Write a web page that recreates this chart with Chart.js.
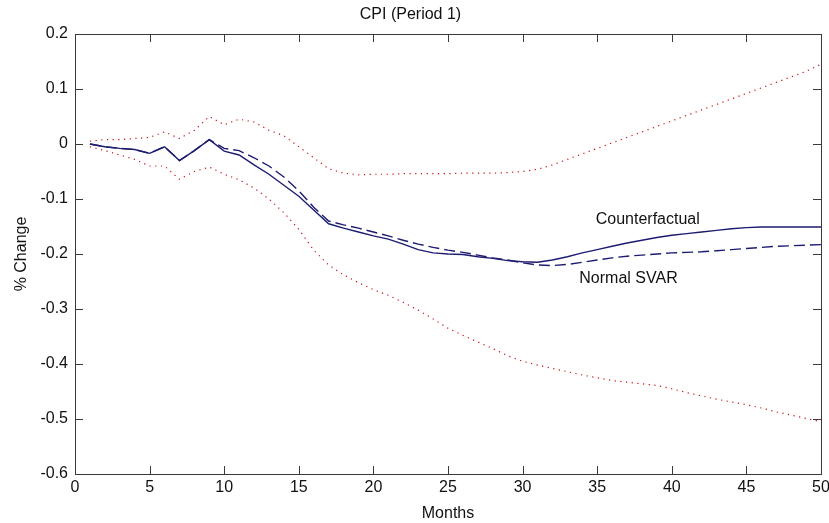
<!DOCTYPE html>
<html>
<head>
<meta charset="utf-8">
<script src="https://cdn.jsdelivr.net/npm/chart.js@4"></script>
<style>
  html, body { margin: 0; padding: 0; background: #fff; }
  #wrap { width: 829px; height: 523px; }
</style>
</head>
<body>
<div id="wrap"><canvas id="chart" width="829" height="523"></canvas></div>
<script>
// months 1..50
const months = [1, 2, 3, 4, 5, 6, 7, 8, 9, 10, 11, 12, 13, 14, 15, 16, 17, 18, 19, 20,
  21, 22, 23, 24, 25, 26, 27, 28, 29, 30, 31, 32, 33, 34, 35, 36, 37, 38, 39, 40,
  41, 42, 43, 44, 45, 46, 47, 48, 49, 50];

const counterfactual = [0, -0.005, -0.008, -0.010, -0.017, -0.005, -0.030, -0.012, 0.008, -0.013,
  -0.020, -0.038, -0.055, -0.075, -0.095, -0.120, -0.145, -0.153, -0.160, -0.167,
  -0.173, -0.182, -0.192, -0.198, -0.200, -0.201, -0.205, -0.208, -0.212, -0.214,
  -0.215, -0.211, -0.205, -0.198, -0.192, -0.186, -0.180, -0.175, -0.170, -0.166,
  -0.163, -0.160, -0.157, -0.154, -0.152, -0.151, -0.151, -0.151, -0.151, -0.151];

const normalSvar = [0, -0.005, -0.008, -0.010, -0.017, -0.005, -0.030, -0.012, 0.008, -0.008,
  -0.012, -0.025, -0.040, -0.060, -0.085, -0.115, -0.140, -0.147, -0.153, -0.160,
  -0.167, -0.175, -0.182, -0.188, -0.193, -0.197, -0.202, -0.207, -0.211, -0.216,
  -0.220, -0.221, -0.219, -0.215, -0.211, -0.207, -0.204, -0.202, -0.200, -0.198,
  -0.197, -0.196, -0.194, -0.192, -0.190, -0.188, -0.186, -0.185, -0.184, -0.183];

const upperBand = [0.005, 0.008, 0.008, 0.010, 0.012, 0.022, 0.010, 0.025, 0.050, 0.035,
  0.045, 0.040, 0.025, 0.015, -0.005, -0.025, -0.045, -0.053, -0.056, -0.055,
  -0.055, -0.054, -0.054, -0.054, -0.054, -0.053, -0.053, -0.053, -0.052, -0.050,
  -0.046, -0.038, -0.028, -0.018, -0.008, 0.002, 0.012, 0.022, 0.032, 0.042,
  0.052, 0.062, 0.072, 0.082, 0.092, 0.102, 0.112, 0.122, 0.132, 0.145];

const lowerBand = [-0.005, -0.012, -0.020, -0.028, -0.040, -0.040, -0.064, -0.050, -0.042, -0.055,
  -0.065, -0.080, -0.100, -0.125, -0.155, -0.193, -0.220, -0.238, -0.252, -0.265,
  -0.275, -0.288, -0.302, -0.318, -0.335, -0.348, -0.360, -0.372, -0.385, -0.395,
  -0.402, -0.408, -0.414, -0.420, -0.425, -0.430, -0.433, -0.436, -0.439, -0.445,
  -0.452, -0.458, -0.464, -0.469, -0.474, -0.480, -0.487, -0.493, -0.499, -0.505];

const xTicks = [0, 5, 10, 15, 20, 25, 30, 35, 40, 45, 50];
const yTicks = [0.2, 0.1, 0, -0.1, -0.2, -0.3, -0.4, -0.5, -0.6];

// text labels placed in data coordinates
const annotations = [
  { text: 'Counterfactual', x: 34.9, y: -0.137 },
  { text: 'Normal SVAR', x: 33.8, y: -0.244 }
];

const FONT = '"Liberation Sans", Arial, sans-serif';
const FSIZE = 16;
const LINE = '#1c1c70';
const BAND = '#cc1010';

function toPoints(ys) {
  return ys.map((y, i) => ({ x: months[i], y: y }));
}

// matlab style box with inward ticks + text labels
const boxPlugin = {
  id: 'matlabBox',
  afterDraw(chart) {
    const ctx = chart.ctx;
    const a = chart.chartArea;
    const xs = chart.scales.x;
    const ys = chart.scales.y;
    ctx.save();
    ctx.strokeStyle = '#3a3a3a';
    ctx.lineWidth = 1;
    ctx.strokeRect(Math.round(a.left) + 0.5, Math.round(a.top) + 0.5,
      Math.round(a.right - a.left), Math.round(a.bottom - a.top));
    ctx.beginPath();
    const len = 8;
    xTicks.forEach((v) => {
      const px = Math.round(xs.getPixelForValue(v)) + 0.5;
      ctx.moveTo(px, a.bottom);
      ctx.lineTo(px, a.bottom - len);
      ctx.moveTo(px, a.top);
      ctx.lineTo(px, a.top + len);
    });
    yTicks.forEach((v) => {
      const py = Math.round(ys.getPixelForValue(v)) + 0.5;
      ctx.moveTo(a.left, py);
      ctx.lineTo(a.left + len, py);
      ctx.moveTo(a.right, py);
      ctx.lineTo(a.right - len, py);
    });
    ctx.stroke();

    ctx.fillStyle = '#111';
    ctx.font = FSIZE + 'px ' + FONT;
    ctx.textBaseline = 'middle';
    ctx.textAlign = 'left';
    annotations.forEach((t) => {
      ctx.fillText(t.text, xs.getPixelForValue(t.x), ys.getPixelForValue(t.y));
    });
    ctx.restore();
  }
};

new Chart(document.getElementById('chart'), {
  type: 'line',
  data: {
    datasets: [
      {
        label: 'Counterfactual',
        data: toPoints(counterfactual),
        borderColor: LINE,
        borderWidth: 1.4,
        pointRadius: 0,
        tension: 0
      },
      {
        label: 'Normal SVAR',
        data: toPoints(normalSvar),
        borderColor: LINE,
        borderWidth: 1.4,
        borderDash: [11, 5],
        pointRadius: 0,
        tension: 0
      },
      {
        label: 'Upper',
        data: toPoints(upperBand),
        borderColor: BAND,
        borderWidth: 1.2,
        borderDash: [1.2, 4.5],
        pointRadius: 0,
        tension: 0
      },
      {
        label: 'Lower',
        data: toPoints(lowerBand),
        borderColor: BAND,
        borderWidth: 1.2,
        borderDash: [1.2, 4.5],
        pointRadius: 0,
        tension: 0
      }
    ]
  },
  options: {
    responsive: false,
    animation: false,
    layout: { padding: { left: 0, right: 8, top: 0, bottom: 0 } },
    plugins: {
      legend: { display: false },
      tooltip: { enabled: false },
      title: {
        display: true,
        text: 'CPI (Period 1)',
        color: '#111',
        font: { family: FONT, size: FSIZE, weight: 'normal', lineHeight: 1.2 },
        padding: { top: 5, bottom: 9.8 }
      }
    },
    scales: {
      x: {
        type: 'linear',
        min: 0,
        max: 50,
        afterBuildTicks(scale) {
          scale.ticks = xTicks.map((v) => ({ value: v }));
        },
        grid: { display: false, drawTicks: false },
        border: { display: false },
        ticks: {
          color: '#111',
          padding: 4,
          maxRotation: 0,
          font: { family: FONT, size: FSIZE }
        },
        title: {
          display: true,
          text: 'Months',
          color: '#111',
          padding: 0,
          font: { family: FONT, size: FSIZE }
        },
        afterFit(scale) {
          scale.height = 49;
          // let the end labels hang over the plot edge like matlab does
          scale.paddingLeft = 0;
          scale.paddingRight = 0;
        }
      },
      y: {
        type: 'linear',
        min: -0.6,
        max: 0.2,
        afterBuildTicks(scale) {
          scale.ticks = yTicks.map((v) => ({ value: v }));
        },
        grid: { display: false, drawTicks: false },
        border: { display: false },
        ticks: {
          color: '#111',
          padding: 7,
          font: { family: FONT, size: FSIZE },
          callback: (v) => String(Math.round(v * 10) / 10)
        },
        title: {
          display: true,
          text: '% Change',
          color: '#111',
          padding: { top: 12, bottom: 0 },
          font: { family: FONT, size: FSIZE }
        },
        afterFit(scale) { scale.width = 75; }
      }
    }
  },
  plugins: [boxPlugin]
});
</script>
</body>
</html>
